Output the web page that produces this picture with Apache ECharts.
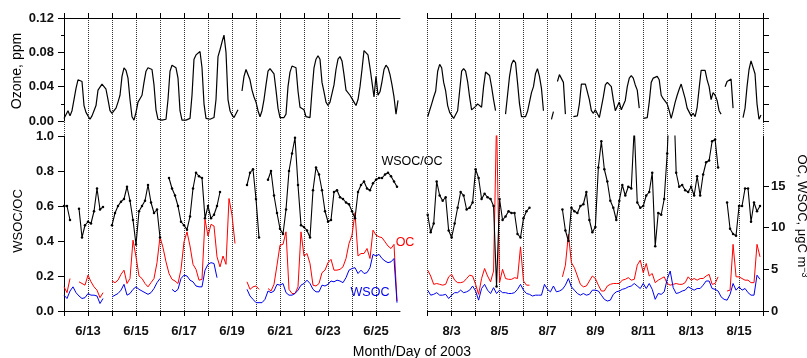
<!DOCTYPE html>
<html><head><meta charset="utf-8">
<script src="https://cdn.jsdelivr.net/npm/echarts@6/dist/echarts.min.js"></script>
<style>html,body{margin:0;padding:0;background:#fff}#c{width:807px;height:358px}</style>
</head><body><div id="c"></div>
<script>
// ---- Ozone (ppm), 2-hour values, June 12 00:00 -> June 26 00:00
const ozoneJun = [
 0.003,0.004,0.012,0.006,0.012,0.025,0.038,0.048,0.050,0.046,0.018,0.010,
 0.006,0.002,0.006,0.012,0.018,0.036,0.036,0.043,0.042,0.037,0.025,0.012,
 0.009,0.012,0.015,0.022,0.030,0.052,0.062,0.059,0.050,0.025,0.005,0.001,
 0.010,0.022,0.026,0.030,0.045,0.058,0.062,0.064,0.060,0.042,0.013,0.002,
 0.001,0.001,0.001,0.002,0.025,0.058,0.065,0.066,0.062,0.050,0.012,0.001,
 0.001,0.001,0.001,0.003,0.030,0.072,0.077,0.079,0.081,0.062,0.020,0.003,
 0.002,0.002,0.002,0.004,0.025,0.075,0.083,0.092,0.100,0.080,0.025,0.012,
 0.007,0.004,0.005,0.013,null,0.035,0.052,0.060,0.058,0.048,0.036,0.028,
 0.022,0.012,0.005,0.012,0.025,0.042,0.058,0.061,0.062,0.055,0.036,0.015,
 0.004,0.004,0.004,0.008,0.040,0.057,0.064,0.066,0.062,0.035,0.016,0.015,
 0.013,0.005,0.003,0.004,0.035,0.062,0.072,0.076,0.072,0.045,0.034,0.022,
 0.018,0.022,0.020,0.042,0.060,0.072,0.075,0.070,0.054,0.036,0.034,0.030,
 0.028,0.022,0.018,0.025,0.040,0.060,0.082,0.080,0.077,0.062,0.045,0.028,
 0.052,0.030,0.034,0.046,0.060,0.065,0.062,0.054,0.042,0.028,0.008,0.024];
// ---- Ozone (ppm), 2-hour values, Aug 2 00:00 -> Aug 16 00:00
const ozoneAug = [
 0.005,0.005,0.020,0.028,0.035,0.058,0.066,0.062,0.045,0.035,0.018,0.010,
 0.008,0.003,0.004,0.012,0.035,0.058,0.061,0.058,0.046,0.028,0.013,0.012,
 0.017,0.020,0.018,0.016,0.040,0.057,0.059,0.053,0.040,0.025,0.012,null,
 null,null,null,0.008,0.030,0.052,0.066,0.071,0.068,0.045,0.020,0.005,
 0.004,0.005,0.011,0.022,0.033,0.040,0.055,0.061,0.052,0.038,0.012,null,
 null,null,0.002,0.011,null,0.046,0.054,0.052,0.045,0.008,null,null,
 null,0.005,0.004,0.006,0.020,0.043,0.044,0.043,0.043,0.025,0.012,0.009,
 0.013,0.012,0.004,0.016,0.028,0.042,0.045,0.044,0.040,0.025,0.012,0.013,
 0.022,0.013,0.012,0.024,0.040,0.050,0.053,0.050,0.042,0.036,0.015,null,
 0.003,0.005,0.004,0.022,0.045,0.050,0.049,0.052,0.048,0.030,0.026,0.024,
 0.020,0.012,0.003,0.012,0.022,0.030,0.037,0.043,0.045,0.026,0.015,0.013,
 0.006,0.009,0.005,0.016,0.038,0.059,0.060,0.059,0.048,0.040,0.025,0.033,
 0.030,0.024,0.012,0.008,null,0.040,0.046,0.047,0.049,0.015,null,null,
 null,null,0.004,0.015,0.040,0.060,0.070,0.071,0.055,0.020,0.002,0.007];
// ---- WSOC/OC ratio, 3-hour values
const ratioJun = [
 0.60,0.60,0.52,null,null,0.585,0.42,0.49,
 0.51,0.50,0.57,0.70,0.58,0.595,null,null,
 0.49,0.56,0.60,0.625,0.64,0.71,0.63,0.52,
 0.38,0.57,0.60,0.63,0.72,0.62,0.56,0.58,
 0.42,null,null,0.76,0.70,0.66,0.60,0.51,
 0.49,0.465,0.54,0.70,0.79,0.77,0.76,0.53,
 0.60,0.53,0.55,0.60,0.68,null,null,null,
 null,null,null,null,null,0.72,0.79,0.81,
 0.64,0.42,null,null,0.75,0.80,0.66,0.56,
 0.47,0.44,0.58,0.80,0.90,0.99,0.72,0.49,
 0.48,0.46,0.42,0.69,0.82,0.78,0.69,0.57,
 0.51,0.52,0.68,0.69,0.65,0.64,0.62,0.61,
 0.57,0.53,0.68,0.72,0.74,0.70,0.69,0.73,
 0.75,0.76,0.76,0.78,0.79,0.77,0.74,0.71];
const ratioAug = [
 0.55,0.45,0.50,0.74,0.66,0.63,0.65,0.46,
 0.42,0.50,0.59,0.68,0.66,0.58,0.59,0.62,
 0.81,0.76,0.64,0.67,0.65,0.64,0.60,0.14,
 0.64,0.52,0.54,0.57,0.56,0.56,0.44,0.42,
 0.53,0.57,0.59,null,null,null,null,null,
 null,null,null,null,null,0.58,0.46,0.40,
 0.59,0.57,0.56,0.60,0.61,0.68,0.52,0.45,
 0.48,0.82,0.97,0.81,0.74,0.63,0.59,0.52,
 0.63,0.72,0.66,0.71,0.70,1.05,0.62,0.59,
 0.60,0.66,0.68,0.79,0.37,0.56,0.55,0.64,
 0.90,1.30,1.30,0.79,0.71,0.72,0.69,0.68,
 0.71,0.66,0.77,0.66,0.78,0.85,0.86,0.97,
 0.98,0.82,null,null,0.62,0.47,0.44,0.43,
 0.60,0.60,0.70,0.70,0.51,0.62,0.57,0.60];
// ---- OC (ugC/m3), 3-hour values
const ocJun = [
 2.9,2.2,3.9,null,null,3.5,3.3,3.1,
 4.3,3.5,2.9,2.5,1.6,2.2,null,null,
 3.6,3.4,3.7,4.4,4.9,3.3,3.9,8.5,
 6.5,4.2,3.9,3.3,2.9,3.4,3.9,5.8,
 8.9,7.6,5.9,4.5,3.8,3.6,3.3,5.0,
 8.3,9.5,7.8,5.6,5.0,3.7,3.8,11.0,
 9.0,10.4,10.2,6.5,5.3,6.6,5.6,13.5,
 11.5,8.1,null,null,null,3.5,2.6,2.9,
 3.0,2.6,null,null,2.7,2.4,3.2,5.5,
 7.9,8.0,9.5,2.6,2.1,2.1,2.9,9.5,
 6.6,6.9,5.7,3.1,3.0,3.3,4.6,4.9,
 5.8,6.2,4.9,4.9,5.0,5.3,6.3,8.1,
 9.1,11.8,6.6,6.9,6.9,7.5,6.3,9.7,
 9.1,8.9,8.8,8.3,7.8,7.5,8.0,1.2];
const ocAug = [
 4.9,4.2,3.2,3.3,3.2,3.1,3.2,4.1,
 4.4,3.7,3.4,3.4,3.5,3.9,4.3,4.2,
 3.2,2.0,3.9,5.1,4.2,3.5,4.8,23,
 3.4,5.0,3.9,3.8,3.8,4.0,3.9,7.7,
 3.6,3.1,3.1,null,null,null,null,null,
 null,null,null,null,null,4.1,5.5,9.2,
 5.8,5.2,4.2,3.2,2.9,3.0,3.6,4.2,
 3.9,3.1,2.4,2.4,3.0,3.2,3.3,3.3,
 3.3,3.7,3.8,4.0,3.7,3.8,5.5,6.1,
 4.6,5.7,4.2,4.5,3.4,3.7,3.9,4.1,
 3.3,3.1,3.2,3.3,3.2,3.2,3.4,4.1,
 3.7,3.9,3.7,3.9,3.9,4.2,4.4,3.2,
 3.3,4.1,null,null,2.4,2.5,8.0,4.1,
 4.1,3.9,3.7,3.7,3.4,3.4,8.0,6.5];
// ---- WSOC (ugC/m3), 3-hour values
const wsocJun = [
 1.9,1.5,2.4,2.9,2.2,1.8,1.5,1.6,
 2.1,1.9,1.9,1.8,0.9,1.5,null,null,
 1.7,1.9,2.1,2.5,3.2,1.9,2.1,2.6,
 2.9,2.6,2.4,2.2,2.0,2.2,2.7,3.4,
 3.9,null,null,null,2.6,2.3,2.6,3.9,
 4.3,4.2,3.7,3.5,3.0,2.9,2.9,4.9,
 5.6,5.8,5.7,4.0,null,null,null,null,
 null,null,null,null,null,2.6,1.8,1.4,
 1.0,1.0,1.0,1.4,2.4,2.2,2.4,3.2,
 3.1,3.3,2.2,1.9,1.9,2.1,2.5,3.1,
 3.3,3.7,3.3,2.6,2.3,2.3,3.1,3.0,
 3.2,3.6,3.5,3.7,3.6,3.4,4.0,4.9,
 5.1,5.2,4.5,4.9,4.5,4.6,5.2,6.8,
 6.6,6.8,6.3,6.0,5.8,5.9,6.3,1.0];
const wsocAug = [
 2.5,1.9,2.0,2.2,1.9,1.9,2.0,1.5,
 1.9,2.2,2.2,2.5,2.2,2.3,2.5,3.0,
 2.4,1.3,2.7,3.2,2.5,2.1,2.8,2.1,
 2.5,2.2,2.2,2.1,2.1,2.2,2.6,3.2,
 2.5,2.1,2.0,1.8,1.9,1.9,1.9,3.2,
 2.6,2.3,3.0,2.3,2.4,2.6,3.1,3.9,
 2.9,2.5,2.1,1.9,2.1,1.9,2.0,2.5,
 2.5,2.4,1.9,1.4,1.2,1.3,2.0,2.3,
 2.4,2.6,2.7,2.9,3.0,3.3,3.0,2.7,
 3.3,2.7,3.3,2.6,1.4,2.1,2.0,2.3,
 3.8,4.8,2.8,2.1,2.2,2.4,2.5,2.9,
 2.7,2.5,2.7,2.7,3.1,3.6,3.6,2.7,
 2.6,2.4,1.7,1.4,1.3,2.0,3.3,2.5,
 2.9,2.5,2.7,2.2,1.9,1.9,4.3,3.8];
// ---- tick labels
const junLabelDays = [13,15,17,19,21,23,25];
const junLabels = ['6/13','6/15','6/17','6/19','6/21','6/23','6/25'];
const augLabelDays = [3,5,7,9,11,13,15];
const augLabels = ['8/3','8/5','8/7','8/9','8/11','8/13','8/15'];
const junStart = 12, augStart = 2;

const F = '"Liberation Sans", Arial, Helvetica, sans-serif';
const chart = echarts.init(document.getElementById('c'), null, {renderer:'canvas'});
function toPairs(vals, start, perDay){ return vals.map((v,i)=>[start + i/perDay, v===null ? '-' : v]); }
const AL = {show:true, onZero:false, lineStyle:{color:'#000', width:1}};
function lineX(g, min, max, pos){
  return {type:'value', gridIndex:g, min, max, position:pos, axisLine:AL,
    axisTick:{show:false}, axisLabel:{show:false}, splitLine:{show:false}};
}
function tickX(g, min, max, pos, split, days, labels){
  return {type:'value', gridIndex:g, min, max, interval:1, position:pos,
    axisLine:{show:false, onZero:false},
    axisTick:{show:true, length:5, lineStyle:{color:'#000', width:1}},
    axisLabel: labels ? {show:true, margin:14, fontSize:13, fontWeight:'bold', fontFamily:F, color:'#111',
      formatter:(v)=>{const k=days.indexOf(Math.round(v)); return (k>=0 && Math.abs(v-Math.round(v))<1e-6)?labels[k]:'';}} : {show:false},
    splitLine: split ? {show:true, lineStyle:{color:'#333', width:1, type:[1,1]}} : {show:false}};
}
function hiddenY(g, max){ return {type:'value', gridIndex:g, min:0, max, show:false, axisLine:{onZero:false}}; }
const LBL = {show:true, margin:10, fontSize:13, fontWeight:'bold', fontFamily:F, color:'#111'};
const TK = {show:true, length:6, lineStyle:{color:'#000', width:1}};

const option = {
  animation:false,
  backgroundColor:'#fff',
  grid:[
    {left:64, top:18, width:336, height:103, containLabel:false},
    {left:427.7, top:18, width:335.3, height:103, containLabel:false},
    {left:64, top:136, width:336, height:175, containLabel:false},
    {left:427.7, top:136, width:335.3, height:175, containLabel:false},
    {left:64, top:18, width:312, height:293, containLabel:false},
    {left:427.7, top:18, width:335.3, height:293, containLabel:false}
  ],
  xAxis:[
    lineX(0, 12, 26, 'top'),
    lineX(1, 2, 16, 'top'),
    lineX(2, 12, 26, 'bottom'),
    lineX(3, 2, 16, 'bottom'),
    tickX(4, 12, 25, 'top', true, null, null),
    tickX(4, 12, 25, 'bottom', false, junLabelDays, junLabels),
    tickX(5, 2, 16, 'top', true, null, null),
    tickX(5, 2, 16, 'bottom', false, augLabelDays, augLabels)
  ],
  yAxis:[
    {type:'value', gridIndex:0, min:0, max:0.12, interval:0.04, axisLine:AL, axisTick:TK,
      minorTick:{show:true, splitNumber:2, length:3, lineStyle:{color:'#000'}},
      axisLabel:Object.assign({}, LBL, {formatter:(v)=>v.toFixed(2)}), splitLine:{show:false}},
    {type:'value', gridIndex:1, min:0, max:0.12, interval:0.02, position:'right', axisLine:AL, axisTick:TK,
      axisLabel:{show:false}, splitLine:{show:false}},
    {type:'value', gridIndex:2, min:0, max:1, interval:0.2, axisLine:AL, axisTick:TK,
      axisLabel:Object.assign({}, LBL, {formatter:(v)=>v.toFixed(1)}), splitLine:{show:false}},
    hiddenY(2, 21),
    hiddenY(3, 1),
    {type:'value', gridIndex:3, min:0, max:21, interval:5, position:'right', axisLine:AL,
      axisTick:Object.assign({}, TK, {customValues:[0,5,10,15,20]}),
      axisLabel:Object.assign({}, LBL, {margin:8, showMaxLabel:false, customValues:[0,5,10,15,20]}),
      splitLine:{show:false}},
    hiddenY(4, 1),
    hiddenY(5, 1)
  ],
  series:[
    {type:'line', xAxisIndex:0, yAxisIndex:0, data:toPairs(ozoneJun, junStart, 12), showSymbol:false, clip:true,
      lineStyle:{color:'#000', width:1.2}, itemStyle:{color:'#000'}},
    {type:'line', xAxisIndex:1, yAxisIndex:1, data:toPairs(ozoneAug, augStart, 12), showSymbol:false, clip:true,
      lineStyle:{color:'#000', width:1.2}, itemStyle:{color:'#000'}},
    {type:'line', xAxisIndex:2, yAxisIndex:3, data:toPairs(ocJun, junStart, 8), showSymbol:false, clip:true,
      lineStyle:{color:'#ff0000', width:1}, itemStyle:{color:'#ff0000'}},
    {type:'line', xAxisIndex:2, yAxisIndex:3, data:toPairs(wsocJun, junStart, 8), showSymbol:false, clip:true,
      lineStyle:{color:'#0000ee', width:1}, itemStyle:{color:'#0000ee'}},
    {type:'line', xAxisIndex:2, yAxisIndex:2, data:toPairs(ratioJun, junStart, 8), showSymbol:true, showAllSymbol:true,
      symbol:'circle', symbolSize:2.5, clip:true, lineStyle:{color:'#000', width:1.1}, itemStyle:{color:'#000'}},
    {type:'line', xAxisIndex:3, yAxisIndex:5, data:toPairs(ocAug, augStart, 8), showSymbol:false, clip:true,
      lineStyle:{color:'#ff0000', width:1}, itemStyle:{color:'#ff0000'}},
    {type:'line', xAxisIndex:3, yAxisIndex:5, data:toPairs(wsocAug, augStart, 8), showSymbol:false, clip:true,
      lineStyle:{color:'#0000ee', width:1}, itemStyle:{color:'#0000ee'}},
    {type:'line', xAxisIndex:3, yAxisIndex:4, data:toPairs(ratioAug, augStart, 8), showSymbol:true, showAllSymbol:true,
      symbol:'circle', symbolSize:2.5, clip:true, lineStyle:{color:'#000', width:1.1}, itemStyle:{color:'#000'}}
  ],
  graphic:[
    {type:'text', x:17, y:71, rotation:Math.PI/2, style:{text:'Ozone, ppm', fontSize:14, fontFamily:F, fill:'#000', align:'center', verticalAlign:'middle'}},
    {type:'text', x:18, y:221, rotation:Math.PI/2, style:{text:'WSOC/OC', fontSize:13, fontFamily:F, fill:'#000', align:'center', verticalAlign:'middle'}},
    {type:'text', x:802, y:216, rotation:-Math.PI/2, style:{text:'OC, WSOC, \u03bcgC m{sup|\u22123}', fontSize:13, fontFamily:F, fill:'#000', align:'center', verticalAlign:'middle',
      rich:{sup:{fontSize:9, fontFamily:F, fill:'#000', verticalAlign:'top', lineHeight:13}}}},
    {type:'text', x:412, y:352, style:{text:'Month/Day of 2003', fontSize:14, fontFamily:F, fill:'#000', align:'center', verticalAlign:'middle'}},
    {type:'text', x:412, y:162, style:{text:'WSOC/OC', fontSize:12.5, fontFamily:F, fill:'#000', align:'center', verticalAlign:'middle'}},
    {type:'text', x:405, y:243, style:{text:'OC', fontSize:12.5, fontFamily:F, fill:'#ff0000', align:'center', verticalAlign:'middle'}},
    {type:'text', x:370, y:293, style:{text:'WSOC', fontSize:12.5, fontFamily:F, fill:'#0000ee', align:'center', verticalAlign:'middle'}}
  ]
};
chart.setOption(option);
</script>
</body></html>
